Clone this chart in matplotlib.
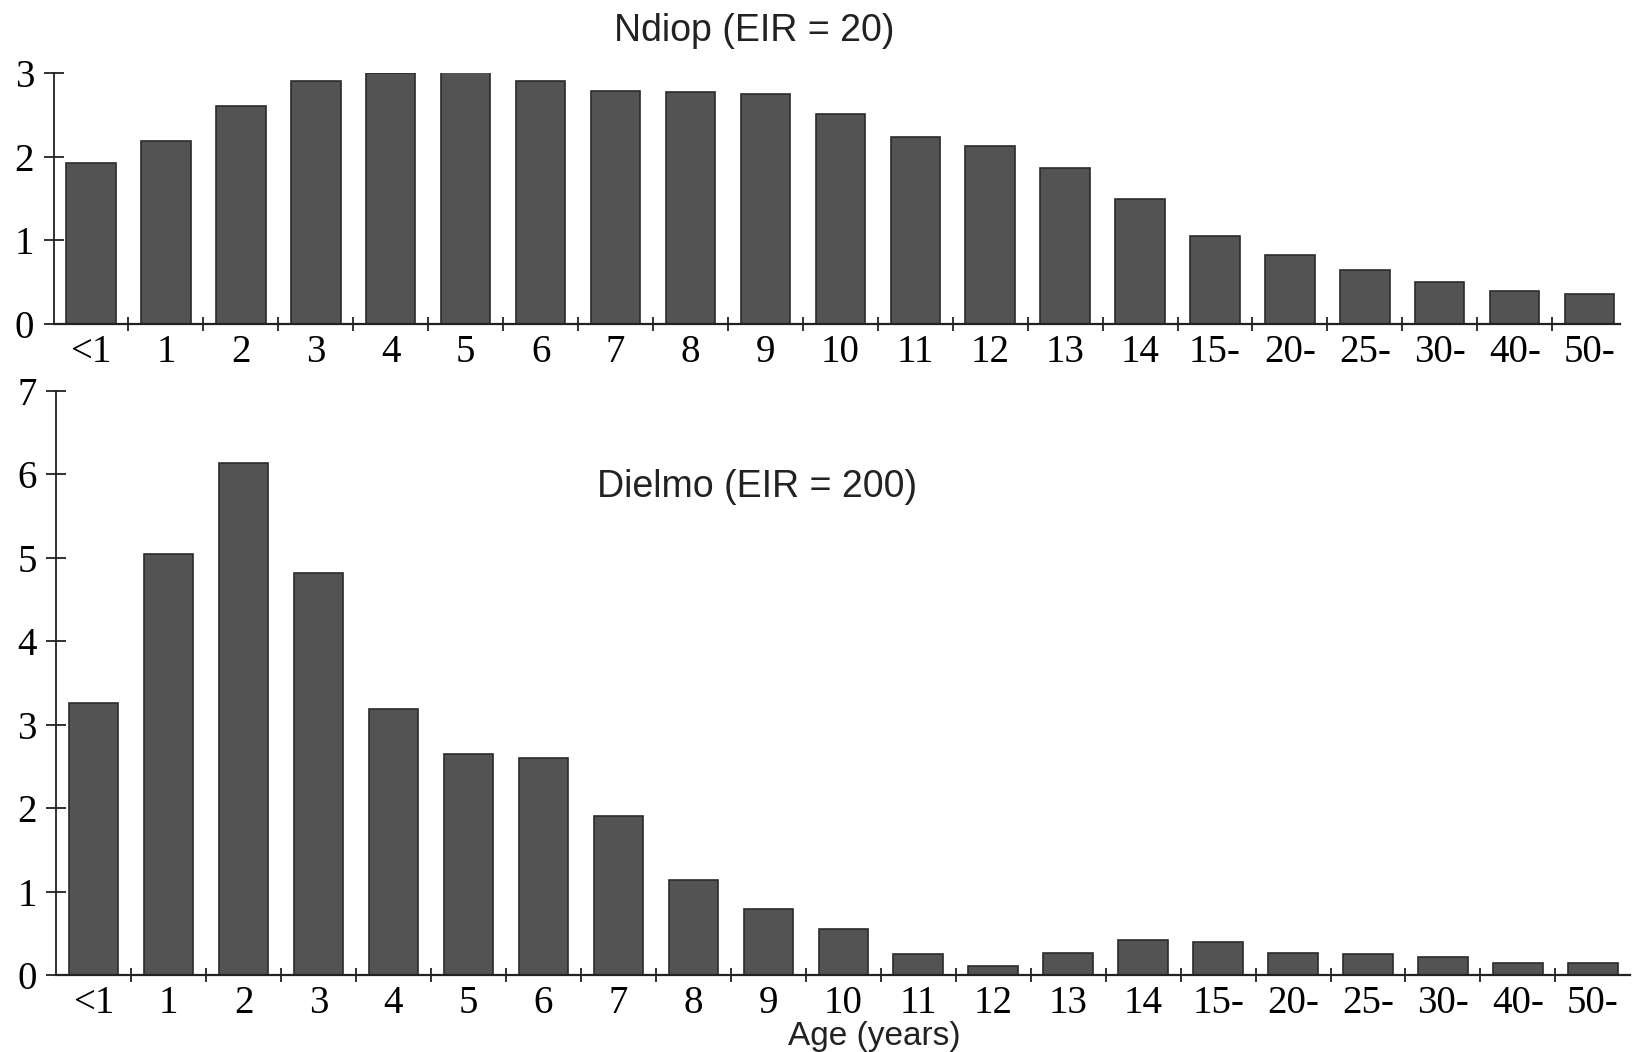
import numpy as np
import matplotlib.pyplot as plt

# age groups (x axis), shared by both panels
ages = ["<1", "1", "2", "3", "4", "5", "6", "7", "8", "9", "10",
        "11", "12", "13", "14", "15-", "20-", "25-", "30-", "40-", "50-"]

# Ndiop (EIR = 20)
ndiop = [1.92, 2.19, 2.60, 2.90, 3.00, 3.02, 2.90, 2.79, 2.77, 2.75, 2.51,
         2.24, 2.13, 1.87, 1.49, 1.05, 0.82, 0.64, 0.50, 0.39, 0.36]

# Dielmo (EIR = 200)
dielmo = [3.26, 5.05, 6.14, 4.82, 3.19, 2.65, 2.60, 1.91, 1.14, 0.79, 0.55,
          0.25, 0.11, 0.26, 0.42, 0.40, 0.26, 0.25, 0.22, 0.14, 0.14]

serif = "Liberation Serif"
sans = "Liberation Sans"
bar_face = "#535353"
bar_edge = "#2b2b2b"
tick_size = 28

fig = plt.figure(figsize=(16.32, 10.52), dpi=100)


def style_axis(ax, ymax):
    x = np.arange(len(ages))
    ax.set_ylim(0, ymax)
    ax.set_yticks(range(ymax + 1))
    ax.set_yticklabels([str(v) for v in range(ymax + 1)], fontfamily=serif, fontsize=tick_size)
    # x ticks sit between the bars, labels under the bars
    ax.set_xticks(x[:-1] + 0.5)
    ax.set_xticklabels([])
    ax.set_xticks(x, minor=True)
    ax.set_xticklabels(ages, minor=True, fontfamily=serif, fontsize=tick_size)
    ax.tick_params(axis="x", which="minor", length=0, pad=7)
    ax.tick_params(axis="x", which="major", direction="inout", length=10, width=1.3, color="#222222")
    ax.tick_params(axis="y", direction="inout", length=14, width=1.3, color="#222222", pad=7)
    for s in ["top", "right"]:
        ax.spines[s].set_visible(False)
    ax.spines["left"].set_linewidth(1.3)
    ax.spines["bottom"].set_linewidth(1.6)
    ax.spines["left"].set_color("#222222")
    ax.spines["bottom"].set_color("#222222")


# top panel
ax1 = fig.add_axes([0.0328, 0.692, 0.9596, 0.2386])
ax1.bar(np.arange(len(ages)), ndiop, width=0.66, color=bar_face, edgecolor=bar_edge, linewidth=1.2)
ax1.set_xlim(-0.5, 20.4)
style_axis(ax1, 3)
fig.text(0.462, 1 - 31 / 1052, "Ndiop (EIR = 20)", fontfamily=sans, fontsize=27,
         ha="center", va="center", color="#222222")

# bottom panel
ax2 = fig.add_axes([0.0344, 0.0732, 0.9646, 0.5551])
ax2.bar(np.arange(len(ages)), dielmo, width=0.66, color=bar_face, edgecolor=bar_edge, linewidth=1.2)
ax2.set_xlim(-0.5, 20.5)
style_axis(ax2, 7)
fig.text(0.464, 1 - 487 / 1052, "Dielmo (EIR = 200)", fontfamily=sans, fontsize=27,
         ha="center", va="center", color="#222222")

# x label at the very bottom edge
fig.text(0.536, 0.0, "Age (years)", fontfamily=sans, fontsize=24,
         ha="center", va="bottom", color="#222222")

fig.savefig("out.png", dpi=100, facecolor="white")
